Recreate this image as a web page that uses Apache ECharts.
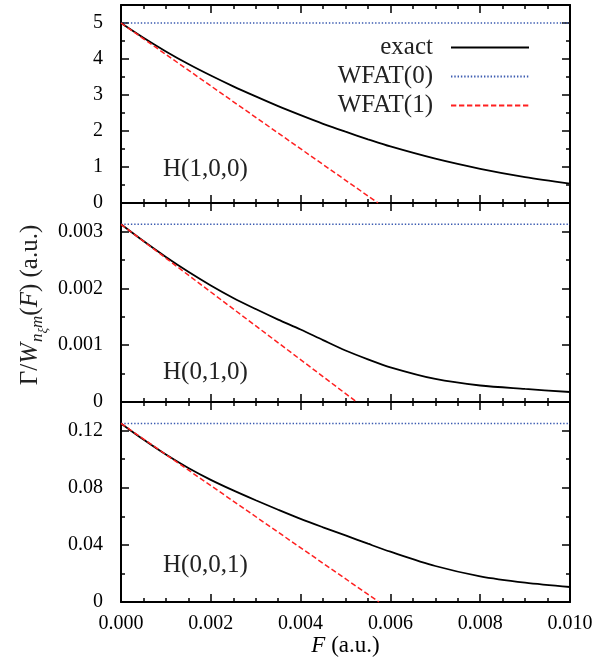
<!DOCTYPE html>
<html><head><meta charset="utf-8">
<script src="https://cdn.jsdelivr.net/npm/echarts@6/dist/echarts.min.js"></script>
<style>html,body{margin:0;padding:0;background:#fff}#c{width:609px;height:666px}</style>
</head><body><div id="c"></div>
<script>
// ---- data ----
const F = [0, 0.0005, 0.001, 0.0015, 0.002, 0.0025, 0.003, 0.0035, 0.004, 0.0045, 0.005, 0.0055, 0.006, 0.007, 0.008, 0.009, 0.010];
const exact100 = [5.0, 4.59, 4.21, 3.86, 3.54, 3.24, 2.96, 2.69, 2.44, 2.20, 1.98, 1.77, 1.57, 1.23, 0.95, 0.72, 0.54];
const exact010 = [0.003125, 0.00283, 0.00255, 0.00229, 0.00205, 0.00183, 0.001635, 0.00145, 0.001275, 0.001088, 0.000905, 0.00075, 0.00061, 0.000405, 0.00029, 0.00023, 0.000176];
const exact001 = [0.125, 0.1137, 0.1032, 0.0938, 0.0855, 0.0781, 0.0712, 0.0646, 0.0582, 0.0523, 0.0466, 0.0408, 0.0352, 0.0252, 0.0180, 0.0136, 0.0105];
const wfat0 = [5.0, 0.003125, 0.125];          // WFAT(0): constant value per panel
const wfat1Zero = [0.005724, 0.00525, 0.005746]; // F at which WFAT(1) reaches zero
const panelNames = ['H(1,0,0)', 'H(0,1,0)', 'H(0,0,1)'];
const yMax = [5.5, 0.0035, 0.14];
const yMajor = [1, 0.001, 0.04];
const yMinor = [0.5, 0.0005, 0.02];
const xMin = 0, xMax = 0.010, xMajor = 0.002;
const seriesNames = ['exact', 'WFAT(0)', 'WFAT(1)'];
const exactAll = [exact100, exact010, exact001];

// ---- layout / style ----
const fam = '"Liberation Serif","Times New Roman",serif';
const G = [{top: 5, h: 198}, {top: 203, h: 199}, {top: 402, h: 200}];
const labelBaseline = [177, 380, 573];
const black = '#000';
const blue = '#3a5ab0';
const red = '#ff2020';

const grid = [], xAxis = [], yAxis = [], series = [], graphic = [];
for (let i = 0; i < 3; i++) {
  grid.push({left: 121, width: 449, top: G[i].top, height: G[i].h});
  const xBase = {
    gridIndex: i, type: 'value', min: xMin, max: xMax, interval: xMajor,
    axisLine: {onZero: false, lineStyle: {color: black, width: 2}},
    axisTick: {inside: true, length: 8, lineStyle: {color: black, width: 1.5}},
    minorTick: {show: true, splitNumber: 4, length: 4, lineStyle: {color: black, width: 1.5}},
    splitLine: {show: false}, minorSplitLine: {show: false}
  };
  xAxis.push(Object.assign({}, xBase, {
    position: 'bottom',
    axisLabel: {show: i === 2, fontFamily: fam, fontSize: 20, color: black, margin: 12,
      formatter: v => v.toFixed(3)},
    name: i === 2 ? '{it|F} (a.u.)' : '',
    nameLocation: 'middle', nameGap: 24,
    nameTextStyle: {fontFamily: fam, fontSize: 23, color: black,
      rich: {it: {fontFamily: fam, fontSize: 23, fontStyle: 'italic', color: black}}}
  }));
  xAxis.push(Object.assign({}, xBase, {position: 'top', axisLabel: {show: false}}));

  const yBase = {
    gridIndex: i, type: 'value', min: 0, max: yMax[i],
    splitLine: {show: false}
  };
  // major left
  yAxis.push(Object.assign({}, yBase, {
    position: 'left', interval: yMajor[i],
    axisLine: {show: true, onZero: false, lineStyle: {color: black, width: 2}},
    axisTick: {inside: true, length: 8, lineStyle: {color: black, width: 1.5}},
    axisLabel: {show: true, showMaxLabel: false, fontFamily: fam, fontSize: 20, color: black, margin: 18}
  }));
  // major right
  yAxis.push(Object.assign({}, yBase, {
    position: 'right', interval: yMajor[i],
    axisLine: {show: true, onZero: false, lineStyle: {color: black, width: 2}},
    axisTick: {inside: true, length: 8, lineStyle: {color: black, width: 1.5}},
    axisLabel: {show: false}
  }));
  // minor ticks (both sides)
  for (const pos of ['right', 'left']) {
    yAxis.push(Object.assign({}, yBase, {
      position: pos, interval: yMinor[i],
      axisLine: {show: false, onZero: false},
      axisTick: {inside: true, length: 4, lineStyle: {color: black, width: 1.5}},
      axisLabel: {show: false}
    }));
  }

  const xi = 2 * i, yi = 4 * i;
  series.push({
    name: seriesNames[0], type: 'line', xAxisIndex: xi, yAxisIndex: yi,
    data: F.map((f, k) => [f, exactAll[i][k]]),
    symbol: 'none', smooth: 0.3,
    lineStyle: {color: black, width: 1.8}, itemStyle: {color: black}, z: 3
  });
  series.push({
    name: seriesNames[1], type: 'line', xAxisIndex: xi, yAxisIndex: yi,
    data: [[xMin, wfat0[i]], [xMax, wfat0[i]]],
    symbol: 'none',
    lineStyle: {color: blue, width: 1.5, type: [1.4, 1.9]}, itemStyle: {color: blue}, z: 2
  });
  series.push({
    name: seriesNames[2], type: 'line', xAxisIndex: xi, yAxisIndex: yi,
    data: [[xMin, wfat0[i]], [wfat1Zero[i], 0]],
    symbol: 'none',
    lineStyle: {color: red, width: 1.5, type: [5.3, 2.7]}, itemStyle: {color: red}, z: 4
  });

  graphic.push({
    type: 'text', left: 163, top: labelBaseline[i] - 20,
    style: {text: panelNames[i], fontFamily: fam, fontSize: 25, fill: '#222'}
  });
}

// y-axis title built from pieces (rotated group)
const ctx = document.createElement('canvas').getContext('2d');
function tw(t, size, it) { ctx.font = (it ? 'italic ' : '') + size + 'px ' + fam; return ctx.measureText(t).width; }
const base = 25, sub = 17, subsub = 13;
const pieces = [
  {t: 'Γ/', it: false, s: base, dy: 0},
  {t: 'W', it: true, s: base, dy: 0},
  {t: 'n', it: true, s: sub, dy: 5},
  {t: 'ξ', it: true, s: subsub, dy: 9},
  {t: 'm', it: true, s: sub, dy: 5},
  {t: '(', it: false, s: base, dy: 0},
  {t: 'F', it: true, s: base, dy: 0},
  {t: ')', it: false, s: base, dy: 0},
  {t: ' (a.u.)', it: false, s: base, dy: 0}
];
const children = [];
let acc = 0;
for (const p of pieces) {
  children.push({
    type: 'text', x: acc, y: p.dy - 0.3 * p.s,
    style: {text: p.t, fontFamily: fam, fontSize: p.s, fontStyle: p.it ? 'italic' : 'normal',
      fill: '#222', align: 'left', verticalAlign: 'middle'}
  });
  acc += tw(p.t, p.s, p.it) + (p.t === 'W' ? 1 : 0);
}
const total = acc;
graphic.push({
  type: 'group', x: 38, y: 305 + total / 2, rotation: Math.PI / 2, children: children
});

const chart = echarts.init(document.getElementById('c'), null, {renderer: 'canvas'});
chart.setOption({
  animation: false,
  backgroundColor: '#fff',
  grid: grid, xAxis: xAxis, yAxis: yAxis, series: series, graphic: graphic,
  legend: {
    data: seriesNames, orient: 'vertical', align: 'right',
    right: 79, top: 35, padding: 0,
    itemWidth: 78, itemHeight: 14, itemGap: 4, selectedMode: false,
    itemStyle: {opacity: 0},
    textStyle: {fontFamily: fam, fontSize: 25, color: '#222', padding: [0, 13, 0, 0]}
  }
});
</script></body></html>
